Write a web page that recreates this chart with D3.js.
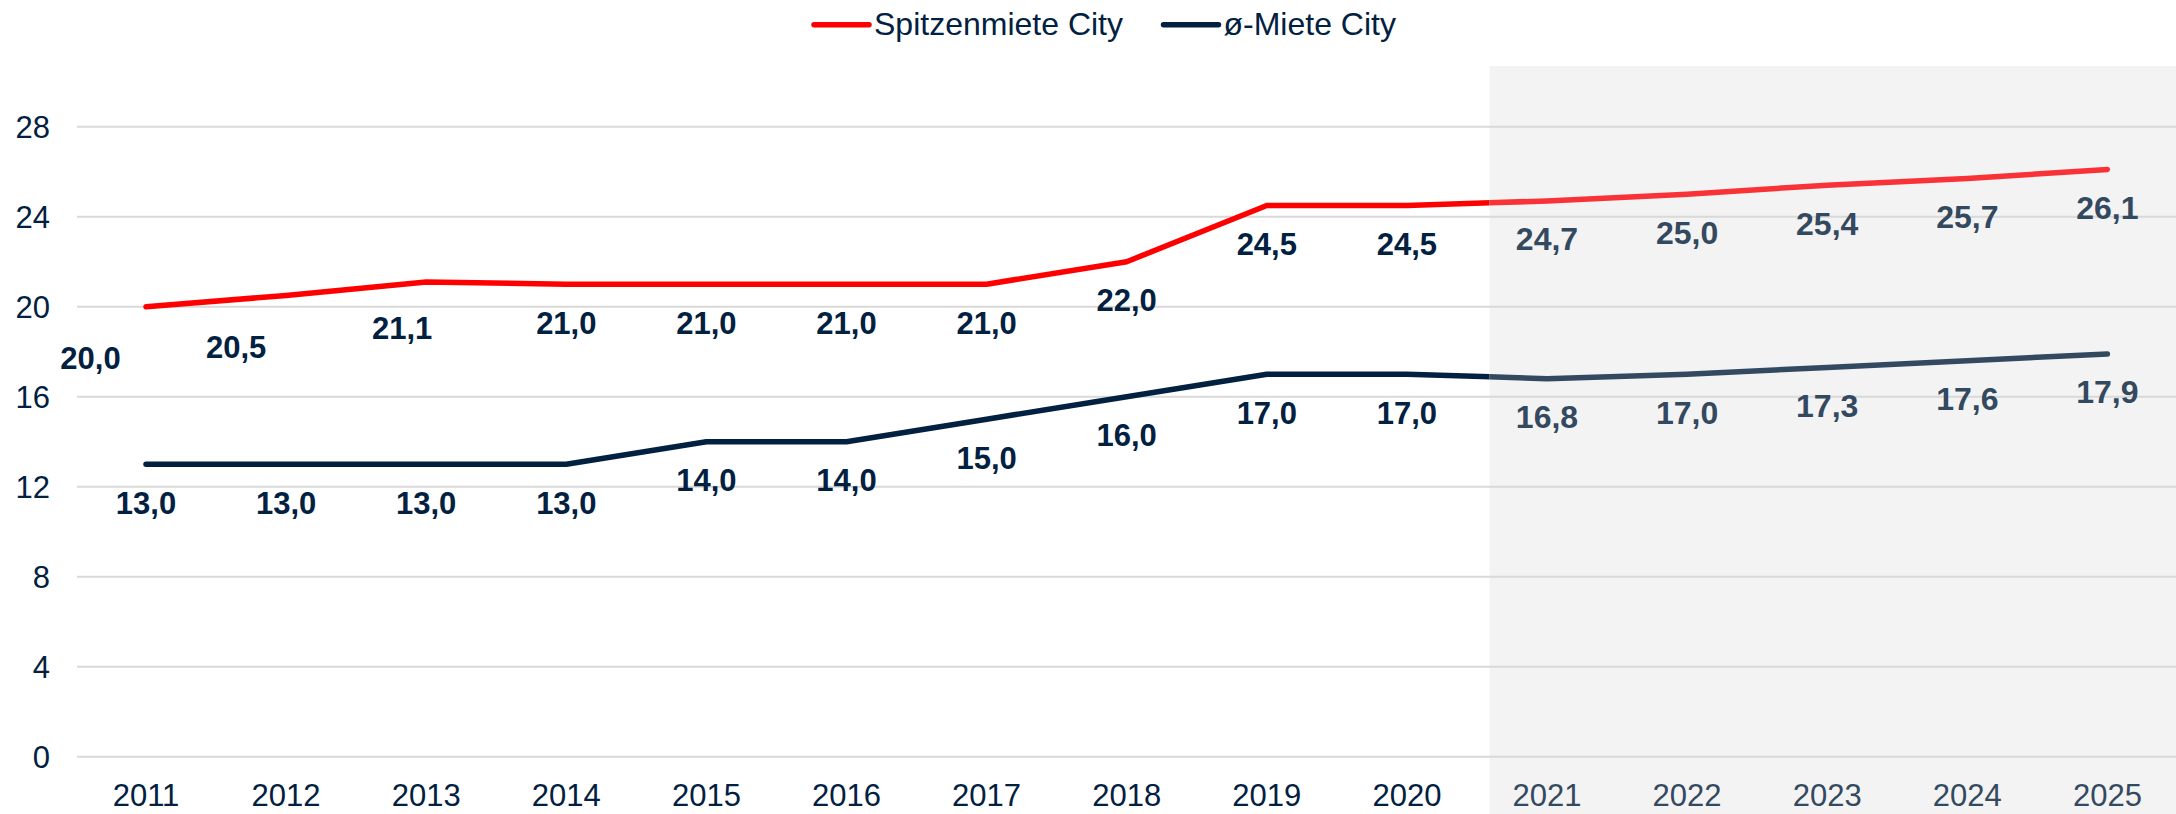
<!DOCTYPE html>
<html lang="de">
  <head>
    <meta charset="UTF-8" />
    <title>Mieten City</title>
    <style>
      body { margin: 0; background: #fff; }
      text { font-family: 'Liberation Sans', Arial, sans-serif; }
    </style>
  </head>
  <body>
    <svg id="svg" width="2176" height="814"></svg>
    <script src="https://cdn.jsdelivr.net/npm/d3@7/dist/d3.min.js"></script>
    <script>
      // daten
      const years = ['2011', '2012', '2013', '2014', '2015', '2016', '2017', '2018', '2019', '2020',
        '2021', '2022', '2023', '2024', '2025']
      const forecastFrom = '2021'
      const spitzenmiete = [20.0, 20.5, 21.1, 21.0, 21.0, 21.0, 21.0, 22.0, 24.5, 24.5, 24.7, 25.0, 25.4, 25.7, 26.1]
      const durchschnitt = [13.0, 13.0, 13.0, 13.0, 14.0, 14.0, 15.0, 16.0, 17.0, 17.0, 16.8, 17.0, 17.3, 17.6, 17.9]
      const yTicks = [0, 4, 8, 12, 16, 20, 24, 28]

      const svg = d3.select('#svg')
      const width = +svg.attr('width')
      const height = +svg.attr('height')

      const x = d3.scalePoint().domain(years).range([146, 2107.4])
      const y = d3.scaleLinear().domain([0, 28]).range([756.7, 126.7])
      const step = x.step()
      const split = x(forecastFrom) - step * 0.41 // grauer Prognosebereich beginnt hier

      const navy = '#02203f'
      const navyLight = '#33495f'
      const red = '#ff0000'
      const redLight = '#f83236'
      const fmt = (v) => v.toFixed(1).replace('.', ',')

      // prognose hintergrund
      svg.append('rect')
        .attr('x', split).attr('y', 66)
        .attr('width', width - split).attr('height', height - 66)
        .attr('fill', '#f3f3f3')

      // gitternetz
      svg.append('g').selectAll('line')
        .data(yTicks).enter().append('line')
        .attr('x1', 77).attr('x2', width)
        .attr('y1', (d) => y(d)).attr('y2', (d) => y(d))
        .attr('stroke', '#d9d9d9').attr('stroke-width', 2)

      svg.append('g').selectAll('text')
        .data(yTicks).enter().append('text')
        .attr('x', 50).attr('y', (d) => y(d))
        .attr('dy', '0.36em')
        .attr('text-anchor', 'end')
        .attr('font-size', 31)
        .attr('fill', navy)
        .text((d) => d)

      svg.append('g').selectAll('text')
        .data(years).enter().append('text')
        .attr('x', (d) => x(d)).attr('y', 806)
        .attr('text-anchor', 'middle')
        .attr('font-size', 31)
        .attr('fill', (d) => (d >= forecastFrom ? navyLight : navy))
        .text((d) => d)

      // clip für ist / prognose
      const defs = svg.append('defs')
      defs.append('clipPath').attr('id', 'clipIst')
        .append('rect').attr('x', 0).attr('y', 0).attr('width', split).attr('height', height)
      defs.append('clipPath').attr('id', 'clipProg')
        .append('rect').attr('x', split).attr('y', 0).attr('width', width - split).attr('height', height)

      const line = d3.line().x((d, i) => x(years[i])).y((d) => y(d))

      const series = [
        { name: 'Spitzenmiete City', values: spitzenmiete, c1: red, c2: redLight },
        { name: 'ø-Miete City', values: durchschnitt, c1: navy, c2: navyLight }
      ]

      series.forEach((s) => {
        ;[['clipIst', s.c1], ['clipProg', s.c2]].forEach(([clip, col]) => {
          svg.append('path')
            .attr('d', line(s.values))
            .attr('clip-path', `url(#${clip})`)
            .attr('fill', 'none')
            .attr('stroke', col)
            .attr('stroke-width', 5.5)
            .attr('stroke-linejoin', 'round')
            .attr('stroke-linecap', 'round')
        })
      })

      // beschriftungen, die ersten roten sind in der vorlage verschoben
      const redShift = { 0: [-55.5, 12.5], 1: [-50, 13], 2: [-24, 8] }

      series.forEach((s, k) => {
        svg.append('g').selectAll('text')
          .data(s.values).enter().append('text')
          .attr('x', (d, i) => x(years[i]) + (k === 0 && redShift[i] ? redShift[i][0] : 0))
          .attr('y', (d, i) => y(d) + 49.5 + (k === 0 && redShift[i] ? redShift[i][1] : 0))
          .attr('text-anchor', 'middle')
          .attr('font-size', (d, i) => (years[i] >= forecastFrom ? 32 : 31))
          .attr('font-weight', 'bold')
          .attr('fill', (d, i) => (years[i] >= forecastFrom ? navyLight : navy))
          .text((d) => fmt(d))
      })

      // legende
      const legend = [
        { x: 814, c: red, name: series[0].name },
        { x: 1163.5, c: navy, name: series[1].name }
      ]
      const lg = svg.append('g').selectAll('g').data(legend).enter().append('g')
      lg.append('line')
        .attr('x1', (d) => d.x).attr('x2', (d) => d.x + 55)
        .attr('y1', 24.7).attr('y2', 24.7)
        .attr('stroke', (d) => d.c).attr('stroke-width', 5.5)
        .attr('stroke-linecap', 'round')
      lg.append('text')
        .attr('x', (d) => d.x + 60).attr('y', 34.5)
        .attr('font-size', 32)
        .attr('fill', navy)
        .text((d) => d.name)
    </script>
  </body>
</html>
